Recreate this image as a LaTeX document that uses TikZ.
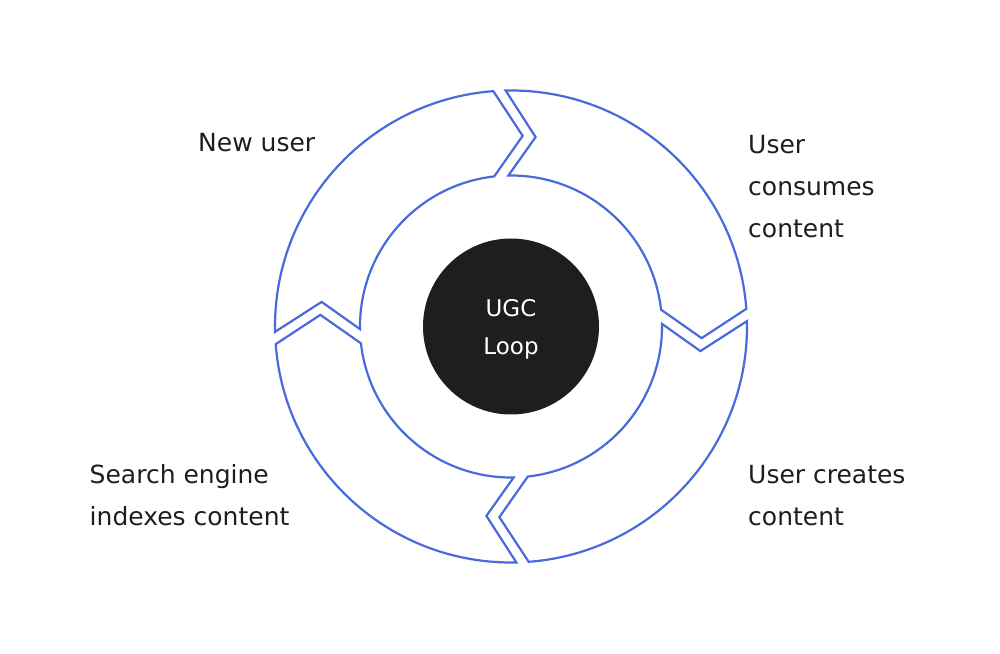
\documentclass[tikz,border=0pt]{standalone}
\usepackage{fontspec}
\setmainfont{DejaVu Sans}
\usetikzlibrary{calc}
\definecolor{loopblue}{RGB}{72,106,220}
\definecolor{inkdark}{RGB}{30,30,30}
\tikzset{
  arcline/.style={draw=loopblue, line width=2.2pt, line join=miter},
  label/.style={inner sep=0pt, anchor=base west, align=left, text=inkdark,
    font=\fontsize{25}{42}\selectfont},
  hub/.style={circle, fill=inkdark, draw=none, minimum size=176pt, inner sep=0pt},
  hubtext/.style={inner sep=0pt, text=white, align=center, anchor=base,
    font=\fontsize{23}{38}\selectfont}
}
\newcommand{\looppiece}[1]{%
  \draw[arcline] ($(C)+(#1+1.3:236pt)$) arc[start angle=#1+1.3, end angle=#1-85.7, radius=236pt]
    -- ($(C)+(#1-93.5:191pt)$) -- ($(C)+(#1-83.6:151pt)$)
    arc[start angle=#1-83.6, end angle=#1+1, radius=151pt]
    -- ($(C)+(#1-7.4:191pt)$) -- cycle;}
\begin{document}
\begin{tikzpicture}[x=1pt,y=1pt]
\useasboundingbox (0,0) rectangle (1000,653);
\coordinate (C) at (511,326.5);
\looppiece{90}
\looppiece{0}
\looppiece{-90}
\looppiece{180}
\node[hub] (hubnode) at (C) {};
\node[hubtext] (hublabel) at (511,298) {UGC\\Loop};
\node[label] (newuser) at (198,501.3) {New user};
\node[label] (consumes) at (748,415.7) {User\\consumes\\content};
\node[label] (search) at (89.5,128) {Search engine\\indexes content};
\node[label] (creates) at (748,128) {User creates\\content};
\end{tikzpicture}
\end{document}
